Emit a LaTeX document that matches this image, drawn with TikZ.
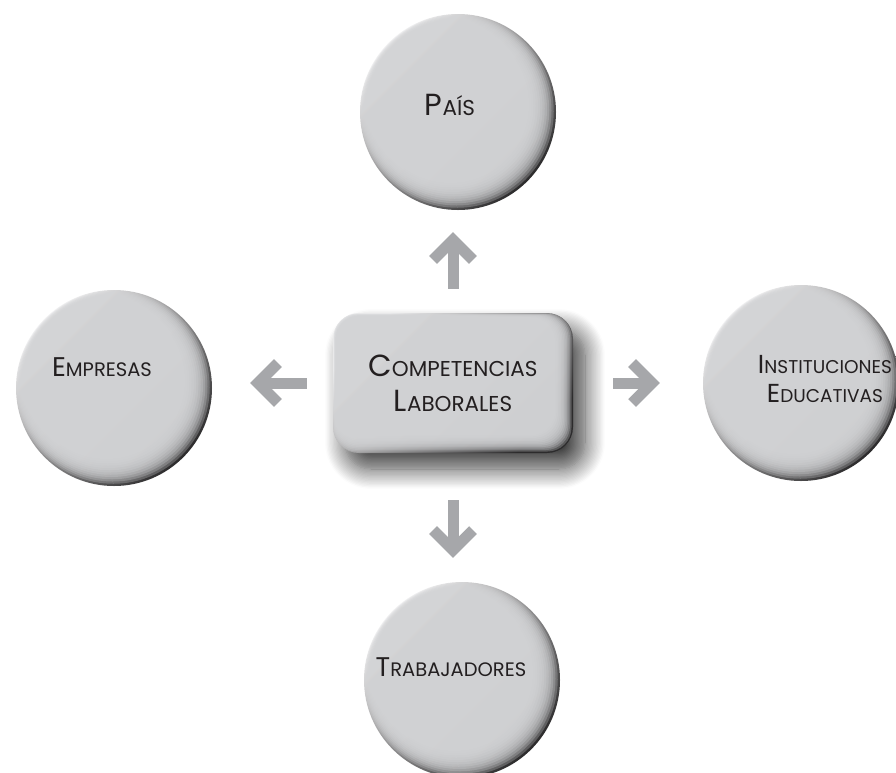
\documentclass[tikz,border=0pt]{standalone}
\usepackage{fontspec}
\setmainfont{Poppins}
\usetikzlibrary{arrows.meta,shadows.blur}

\definecolor{face}{HTML}{D3D4D6}
\definecolor{rimlight}{HTML}{F2F2F3}
\definecolor{rimmid}{HTML}{A3A4A6}
\definecolor{rimdark}{HTML}{2C2B2C}
\definecolor{arrowgray}{HTML}{A6A7AA}
\definecolor{ink}{HTML}{231F20}

% versalitas hechas a mano: inicial grande y resto en mayusculas pequenas
\newcommand{\bigsc}[2]{{\fontsize{30.5}{35}\selectfont #1}{\fontsize{21.5}{35}\selectfont #2}}
\newcommand{\midsc}[2]{{\fontsize{27}{29}\selectfont #1}{\fontsize{19.5}{29}\selectfont #2}}
\newcommand{\lowsc}[2]{{\fontsize{26}{29}\selectfont #1}{\fontsize{18.5}{29}\selectfont #2}}

\tikzset{
  rim/.style={top color=rimlight, middle color=rimmid, bottom color=rimdark, shading angle=45},
  ball/.style={rim, circle, minimum size=196pt, inner sep=0pt,
    path picture={
      \foreach \k in {1,...,12}
        \fill[face, opacity=0.28]
          ([shift={(-0.65*\k pt, 0.65*\k pt)}]path picture bounding box.center)
          circle (98pt-1.6*\k pt);
    }},
  slab/.style={rim, rounded corners=26pt, minimum width=240pt, minimum height=140pt,
    text=ink, align=center, font=\fontsize{21.5}{35}\selectfont,
    blur shadow={shadow xshift=12pt, shadow yshift=-16pt, shadow blur radius=20pt,
      shadow blur steps=16, shadow opacity=75},
    path picture={
      \foreach \k in {1,...,12}
        \fill[face, opacity=0.28, rounded corners=24pt]
          ([shift={(0.35*\k pt, -0.35*\k pt)}]path picture bounding box.north west)
          rectangle ([shift={(-1.5*\k pt, 1.5*\k pt)}]path picture bounding box.south east);
    }},
  lbl/.style={text=ink, align=center, inner sep=0pt, font=\fontsize{19}{29}\selectfont},
  bigarrow/.style={draw=arrowgray, line width=11pt,
    -{Straight Barb[sharp, length=20pt, width=40pt]}}
}

\begin{document}
\begin{tikzpicture}[x=1pt, y=-1pt]
  \useasboundingbox (0,0) rectangle (896,772);

  % centro
  \node[slab] (comp) at (453,383) {\bigsc{C}{OMPETENCIAS}\\\bigsc{L}{ABORALES}};

  % los cuatro botones
  \node[ball] (pais) at (458,112) {};
  \node[ball] (empresas) at (114,388) {};
  \node[ball] (instit) at (801,383) {};
  \node[ball] (trab) at (462,680) {};

  \node[lbl, anchor=base] (pais-txt) at ([shift={(-8,3)}]pais.center) {\bigsc{P}{AÍS}};
  \node[lbl, anchor=base] (empresas-txt) at ([shift={(-12,-12)}]empresas.center) {\midsc{E}{MPRESAS}};
  \node[lbl] (instit-txt) at ([shift={(24,-4)}]instit.center) {\lowsc{I}{NSTITUCIONES}\\\lowsc{E}{DUCATIVAS}};
  \node[lbl, anchor=base] (trab-txt) at ([shift={(-11,-4)}]trab.center) {\midsc{T}{RABAJADORES}};

  % flechas
  \draw[bigarrow, shorten <=24pt, shorten >=22pt] (comp.north) -- (comp.north |- pais.south);
  \draw[bigarrow, shorten <=47pt, shorten >=24pt] (comp.south) -- (comp.south |- trab.north);
  \draw[bigarrow, shorten <=26pt, shorten >=38pt] (comp.west) -- (comp.west -| empresas.east);
  \draw[bigarrow, shorten <=40pt, shorten >=43pt] (comp.east) -- (comp.east -| instit.west);
\end{tikzpicture}
\end{document}
